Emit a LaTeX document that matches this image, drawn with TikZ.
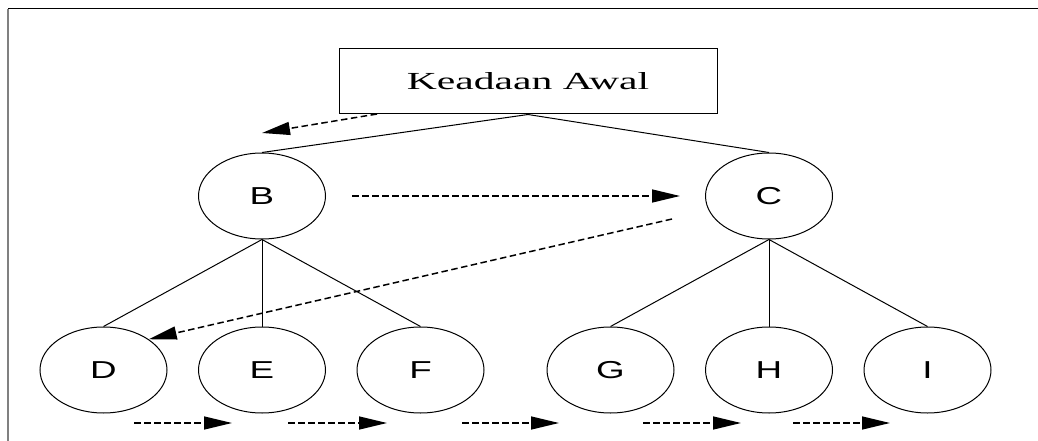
\documentclass[tikz,border=0pt]{standalone}
\usepackage{fontspec}
\setmainfont{Liberation Serif}
\newfontfamily\letterfont{Liberation Sans}[FakeStretch=1.5]
\newfontfamily\rootfont{Liberation Serif}[FakeStretch=1.7]
\usetikzlibrary{shapes.geometric, arrows.meta, positioning}

\begin{document}
\begin{tikzpicture}[x=1pt, y=-1pt,
        root/.style={draw, line width=1pt, minimum width=378pt, minimum height=65pt, inner sep=0pt, font=\rootfont\fontsize{24.5}{28}\selectfont},
        state/.style={draw, ellipse, line width=1pt, minimum width=127pt, minimum height=86pt, inner sep=0pt, font=\letterfont\fontsize{24.5}{28}\selectfont},
        branch/.style={line width=1pt},
        walk/.style={-{Triangle[length=28pt, width=13pt]}, line width=1.5pt, dash pattern=on 6.5pt off 3.5pt}]
        \useasboundingbox (0,0) rectangle (1038,441);
        % frame
        \draw[line width=1pt] (8,9) -- (1038,9);
        \draw[gray, line width=2pt] (8,9) -- (8,441);
        % leaves
        \node[state] (D) at (103.5,370) {D};
        \node[state, right=30.5pt of D] (E) {E};
        \node[state, right=30.5pt of E] (F) {F};
        \node[state, right=62pt of F] (G) {G};
        \node[state, right=30.5pt of G] (H) {H};
        \node[state, right=30.5pt of H] (I) {I};
        % level 1 and root
        \node[state, above=87pt of E] (B) {B};
        \node[state, above=87pt of H] (C) {C};
        \node[root] (awal) at (528,81.5) {Keadaan Awal};
        \draw[branch] (awal.south) -- (B.north);
        \draw[branch] (awal.south) -- (C.north);
        \foreach \kid in {D,E,F} \draw[branch] (B.south) -- (\kid.north);
        \foreach \kid in {G,H,I} \draw[branch] (C.south) -- (\kid.north);
        % search order
        \coordinate (s0) at (377,114);
        \coordinate (s1) at (262,133);
        \coordinate (s2) at (672,219);
        \draw[walk] (s0) -- (s1);
        \draw[walk, shorten <=26pt, shorten >=25pt] (B) -- (C);
        \draw[walk] (s2) -- (D.north east);
        \foreach \s/\e [count=\k] in {134/232, 288/387, 462/559, 643/741, 793/890}{
          \coordinate (go\k) at (\s,423);
          \coordinate (to\k) at (\e,423);
          \draw[walk] (go\k) -- (to\k);
        }
      \end{tikzpicture}
\end{document}
